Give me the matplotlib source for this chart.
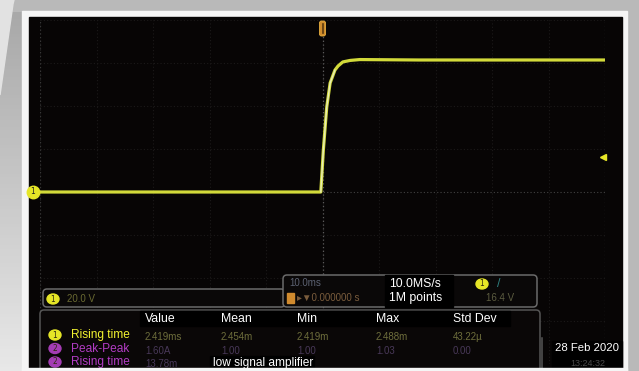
import numpy as np
import matplotlib
matplotlib.use('Agg')
import matplotlib.pyplot as plt
from matplotlib.patches import Rectangle, FancyBboxPatch, Ellipse, Polygon

# channel 1 trace (10 ms/div, 20 V/div)
time_ms = [-50, -0.3, 0.15, 0.75, 1.35, 2.2, 2.75, 3.6, 4.9, 6.6, 17.0, 50]
volts = [0, 0, 19.5, 39.5, 50.7, 56.7, 58.6, 60.5, 61.2, 61.6, 61.4, 61.4]
trig_level = 16.4

ch_scale = '20.0 V'
time_scale = '10.0ms'
trig_delay = '0.000000 s'
sample_rate = '10.0MS/s'
record_len = '1M points'
trig_text = '16.4 V'

headers = ['Value', 'Mean', 'Min', 'Max', 'Std Dev']
meas_names = ['Rising time', 'Peak-Peak', 'Rising time']
meas_values = [['2.419ms', '2.454m', '2.419m', '2.488m', '43.22µ'],
               ['1.60A', '1.00', '1.00', '1.03', '0.00'],
               ['13.78m', '', '', '', '']]
note = 'low signal amplifier'
date_str = '28 Feb 2020'
time_str = '13:24:32'

W, H = 639, 371
font = ['Liberation Sans', 'DejaVu Sans']
yellow = '#e6e627'
purple = '#a43cb4'

fig = plt.figure(figsize=(W / 100, H / 100), dpi=100)
fig.patch.set_facecolor('#b9b9b9')

# background / bezel in pixel coords
bg = fig.add_axes([0, 0, 1, 1], zorder=0)
bg.set_xlim(0, W)
bg.set_ylim(H, 0)
bg.axis('off')
grad = np.linspace(0, 1, 100).reshape(-1, 1)
bg.imshow(grad, cmap=matplotlib.colors.LinearSegmentedColormap.from_list('g', ['#a9a9a9', '#e8e8e8']),
          extent=(0, 25, H, 12), aspect='auto', zorder=1)
bg.add_patch(Polygon([(0, 0), (14, 0), (13, 4), (0, 95)], color='#e2e2e2', zorder=2))
bg.add_patch(Rectangle((22, 11), 605, 362, color='#f5f5f5', zorder=3))
bg.add_patch(Rectangle((29, 17), 593, 351, color='#070505', zorder=4))

# scope graticule + trace
ax = fig.add_axes([40 / W, 1 - 364 / H, 565 / W, 344 / H], zorder=1)
ax.patch.set_alpha(0)
ax.set_xlim(-50, 50)
ax.set_ylim(-80, 80)
ax.set_xticks(np.arange(-50, 51, 10))
ax.set_yticks(np.arange(-80, 81, 20))
ax.tick_params(length=0, labelbottom=False, labelleft=False)
for s in ax.spines.values():
    s.set_visible(False)
ax.grid(True, color='#1c1a1a', ls=(0, (1, 2)), lw=0.8)
ax.axhline(0, color='#3e3e3e', ls=(0, (1, 2)), lw=0.8)
ax.axvline(0, color='#5a5a5a', ls=(0, (1, 2)), lw=0.9)
ax.axvline(-50, color='#363636', ls=(0, (1, 2)), lw=0.9)
ax.axvline(50, color='#363636', ls=(0, (1, 2)), lw=0.9)

ax.plot(time_ms, volts, color='#d2da3a', lw=2.3, solid_capstyle='butt', zorder=5)
ax.plot(time_ms[1:6], volts[1:6], color='#e8edb8', lw=1.0, zorder=6)

# ground marker, trigger level marker
ax.plot([-51.3], [0], marker='o', ms=9, color=yellow, clip_on=False, zorder=7)
ax.text(-51.3, 0, '1', fontsize=5.5, ha='center', va='center', color='#222', zorder=8)
ax.plot([49.6], [trig_level], marker='<', ms=5, color=yellow, clip_on=False, zorder=7)

# overlay panels in pixel coords
ov = fig.add_axes([0, 0, 1, 1], zorder=3)
ov.patch.set_alpha(0)
ov.set_xlim(0, W)
ov.set_ylim(H, 0)
ov.axis('off')

# trigger position marker at top of the screen
ov.add_patch(FancyBboxPatch((319.5, 21), 6, 15, boxstyle='round,pad=0,rounding_size=2',
                            fc='#cf8c2c', ec='#e8b040', lw=0.6, zorder=6))
ov.plot([322.5, 322.5], [24, 33], color='#5a3a10', lw=1.2, zorder=7)


def box(x0, y0, w, h, ec='#6a6a6a', fc='#0a0808', z=2):
    ov.add_patch(FancyBboxPatch((x0, y0), w, h, boxstyle='round,pad=0,rounding_size=4',
                                ec=ec, fc=fc, lw=1.1, zorder=z))


def badge(x, y, color, label='1'):
    ov.add_patch(Ellipse((x, y), 12, 10, color=color, zorder=6))
    ov.text(x, y, label, fontsize=5.5, ha='center', va='center', color='#302a10', zorder=7)


# channel scale box
box(43, 289, 242, 18)
badge(53, 299, yellow)
ov.text(67, 299, ch_scale, fontsize=7, family=font, color='#6a6a32', va='center', zorder=7)

# timebase box
box(283, 275, 254, 32)
ov.text(289, 283.5, time_scale, fontsize=7, family=font, color='#5c6272', va='center', zorder=7)
ov.add_patch(Rectangle((287, 293), 7, 10, color='#cf8a2e', zorder=6))
ov.text(297, 298, '\u25b8\u25bc' + trig_delay, fontsize=7, family=font, color='#7a5c3c', va='center', zorder=7)
ov.add_patch(Rectangle((385, 275), 68, 32, color='black', zorder=5))
ov.text(389, 284, sample_rate, fontsize=8.8, family=font, color='white', va='center', zorder=7)
ov.text(389, 298, record_len, fontsize=8.8, family=font, color='white', va='center', zorder=7)
badge(482, 284, yellow)
ov.text(497, 284, '/', fontsize=9, family=font, color='#2f8080', va='center', zorder=7)
ov.text(500, 298, trig_text, fontsize=7, family=font, color='#5c5c40', va='center', ha='center', zorder=7)

# measurement table
box(40, 310, 500, 80, ec='#555', fc='#0a0707')
ov.add_patch(Rectangle((140, 311), 370, 15, color='black', zorder=5))
col_x = [145, 221, 297, 376, 453]
for cx, h in zip(col_x, headers):
    ov.text(cx, 318.5, h, fontsize=8.8, family=font, color='white', va='center', zorder=7)

row_y = [335, 348.5, 362]
name_colors = ['#f2f230', '#b23cc4', '#b23cc4']
badge_colors = [yellow, purple, purple]
value_colors = ['#6e6e3c', '#483858', '#483858']
for i, (name, vals) in enumerate(zip(meas_names, meas_values)):
    badge(55, row_y[i], badge_colors[i], '1' if i == 0 else '2')
    ov.text(71, row_y[i], name, fontsize=8.6, family=font, color=name_colors[i], va='center', zorder=7)
    for cx, v in zip(col_x, vals):
        ov.text(cx, row_y[i] + 2, v, fontsize=7, family=font, color=value_colors[i],
                va='center', zorder=7)

ov.add_patch(Rectangle((210, 356), 104, 15, color='black', zorder=6))
ov.text(213, 363, note, fontsize=8.6, family=font, color='white', va='center', zorder=7)

# date box
ov.plot([542, 542], [338, 368], color='#555', lw=1.1, zorder=5)
ov.add_patch(Rectangle((552, 341), 70, 27, color='black', zorder=5))
ov.text(619, 348, date_str, fontsize=8.2, family=font, color='white', va='center', ha='right', zorder=7)
ov.text(588, 363, time_str, fontsize=6.5, family=font, color='#4a4a4a', va='center', ha='center', zorder=7)

# bottom bezel edge
ov.add_patch(Rectangle((22, 368), 605, 4, color='#f5f5f5', zorder=9))

fig.savefig('out.png', dpi=100)
